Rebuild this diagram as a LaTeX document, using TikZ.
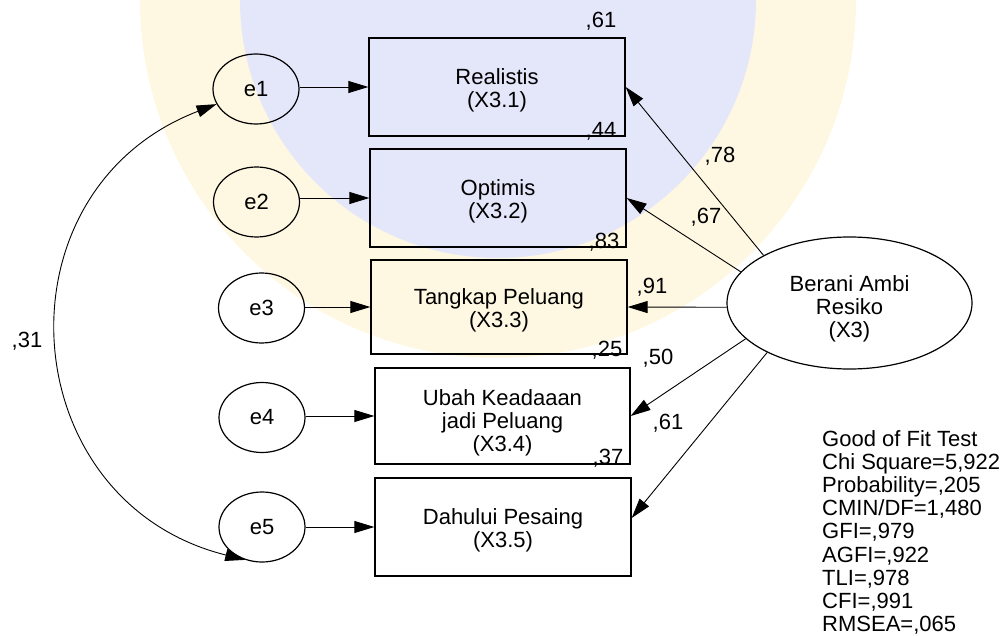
\documentclass[tikz,border=0pt]{standalone}
\usepackage{fontspec}
\setmainfont{Liberation Sans}
\usetikzlibrary{arrows.meta,shapes.geometric}
\definecolor{emblemblue}{RGB}{228,230,250}
\definecolor{emblemyellow}{RGB}{254,248,226}
\begin{document}
\begin{tikzpicture}[x=1pt,y=-1pt,
  every node/.style={font=\fontsize{22}{23.2}\selectfont},
  latent/.style={ellipse,draw,line width=1.2pt,inner sep=0pt},
  indicator/.style={rectangle,draw,line width=1.3pt,minimum width=256pt,
    minimum height=98pt,align=center,inner sep=0pt,text height=46pt},
  loading/.style={line width=0.9pt,-{Triangle[length=20pt,width=12pt]}},
  covar/.style={line width=0.9pt,
    {Triangle[length=20pt,width=12pt]}-{Triangle[length=20pt,width=12pt]}},
  coef/.style={inner sep=0pt,text depth=0pt},
]
\useasboundingbox (0,0) rectangle (1008,636);

% faint emblem behind the model
\begin{scope}
  \clip (0,0) rectangle (1008,636);
  \fill[emblemyellow] (498,0) circle[radius=358];
  \fill[emblemblue] (498,0) circle[radius=258];
\end{scope}

% error terms
\node[latent,minimum width=86pt,minimum height=70pt] (e1) at (256,89) {e1};
\node[latent,minimum width=86pt,minimum height=70pt] (e2) at (256.5,202) {e2};
\node[latent,minimum width=86pt,minimum height=70pt] (e3) at (261.5,308) {e3};
\node[latent,minimum width=86pt,minimum height=70pt] (e4) at (262,417.5) {e4};
\node[latent,minimum width=86pt,minimum height=70pt] (e5) at (262,527) {e5};

% observed indicators
\node[indicator] (b1) at (497,87) {Realistis\\(X3.1)};
\node[indicator] (b2) at (498,198) {Optimis\\(X3.2)};
\node[indicator,minimum height=94pt] (b3) at (499,307) {Tangkap Peluang\\(X3.3)};
\node[indicator,minimum width=255pt,minimum height=96pt,text height=76pt]
  (b4) at (502.5,416) {Ubah Keadaaan\\jadi Peluang\\(X3.4)};
\node[indicator] (b5) at (503,527) {Dahului Pesaing\\(X3.5)};

% latent construct
\node[latent,minimum width=245pt,minimum height=132pt,align=center,
  text height=74pt] (X3) at (849.5,303) {Berani Ambi\\Resiko\\(X3)};

% error paths
\draw[loading] (e1.east |- b1.west) -- (b1.west);
\draw[loading] (e2.east |- b2.west) -- (b2.west);
\draw[loading] (e3.east |- b3.west) -- (b3.west);
\draw[loading] (e4.east |- b4.west) -- (b4.west);
\draw[loading] (e5.east |- b5.west) -- (b5.west);

% factor loadings
\draw[loading] (X3.151) -- (b1.east);
\draw[loading] (X3.164) -- (b2.east);
\draw[loading] (X3.182) -- (b3.east);
\draw[loading] (X3.199) -- (b4.east);
\draw[loading] (X3.211) -- (b5.4);

% error covariance
\draw[covar] (e1.201) to[out=201,in=166,looseness=1.35] (e5.243);

% squared multiple correlations
\node[coef] (r1) at (601,20) {,61};
\node[coef] (r2) at (601,130) {,44};
\node[coef] (r3) at (604,241) {,83};
\node[coef] (r4) at (607,349) {,25};
\node[coef] (r5) at (608,457) {,37};

% standardized loadings
\node[coef] (l1) at (720,155) {,78};
\node[coef] (l2) at (706,216) {,67};
\node[coef] (l3) at (652,286) {,91};
\node[coef] (l4) at (658,357) {,50};
\node[coef] (l5) at (668,422) {,61};
\node[coef] (c15) at (27,340) {,31};

% fit statistics
\node[anchor=north west,align=left,inner sep=0pt] (fit) at (822,430)
  {Good of Fit Test\\Chi Square=5,922\\Probability=,205\\CMIN/DF=1,480\\
   GFI=,979\\AGFI=,922\\TLI=,978\\CFI=,991\\RMSEA=,065};
\end{tikzpicture}
\end{document}
